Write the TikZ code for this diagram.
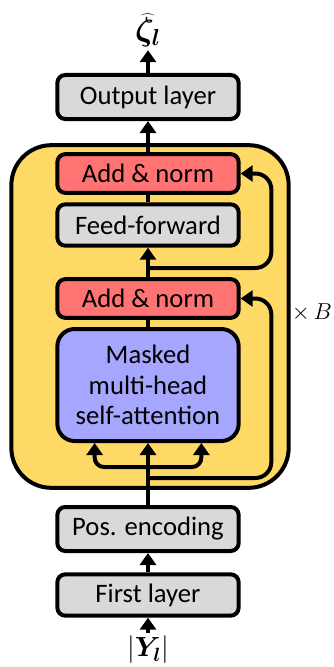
\documentclass[tikz,border=0pt]{standalone}
\usepackage{fontspec}
\usepackage{bm}
\setmainfont{Carlito}
\usetikzlibrary{arrows.meta}
\definecolor{boxgray}{HTML}{D9D9D9}
\definecolor{normred}{HTML}{FF7373}
\definecolor{attnblue}{HTML}{A6A6FF}
\definecolor{blockyellow}{HTML}{FFD966}
\begin{document}
\begin{tikzpicture}[x=0.75pt,y=-0.75pt,line width=3pt,
        >={Triangle[width=12pt,length=9pt]},
        layer/.style={draw,rounded corners=6pt,minimum width=136pt,inner sep=0pt,
            font=\fontsize{20}{23}\selectfont,align=center},
        graylayer/.style={layer,fill=boxgray},
        normlayer/.style={layer,fill=normred,minimum height=29pt},
        label/.style={font=\fontsize{20}{23}\selectfont,inner sep=1pt}]
                \useasboundingbox (0,0) rectangle (334,667);
                \node[draw,fill=blockyellow,rounded corners=30pt,minimum width=208pt,minimum height=257pt] (block) at (150,316.5) {};

                \node[graylayer,minimum height=33pt] (output) at (148,97) {Output layer};
                \node[normlayer] (norm2) at (148,173.5) {Add \& norm};
                \node[graylayer,minimum height=31pt] (ff) at (148,225) {Feed-forward};
                \node[normlayer] (norm1) at (148,298.5) {Add \& norm};
                \node[layer,fill=attnblue,rounded corners=13pt,minimum height=84pt] (mhsa) at (148,385) {Masked\\multi-head\\self-attention};
                \node[graylayer,minimum height=33pt] (pos) at (148,529) {Pos. encoding};
                \node[graylayer,minimum height=31pt] (first) at (148,595) {First layer};

                \node[label,font=\fontsize{23}{26}\selectfont] (zeta) at (148,30) {\(\bm{\widehat{\zeta}_{l}}\)};
                \node[label] (input) at (148,650) {\(|\bm{Y}_{\bm{l}}|\)};
                \node[label,font=\fontsize{18}{21}\selectfont,inner sep=0pt] (times) at (312,313) {\(\times\,B\)};

                \coordinate (split1) at (148,467);
                \coordinate (split2) at (148,478);
                \coordinate (split3) at (148,268);

                \draw[->] (input) to (first); \draw[->] (first) to (pos); \draw[->] (pos) to (mhsa);
                \draw (mhsa) to (norm1); \draw[->] (norm1) to (ff); \draw (ff) to (norm2);
                \draw[->] (norm2) to (output); \draw[->] (output.north) to (zeta.south);
                \draw[->,rounded corners=7pt] (split1) -| ([xshift=-40pt]mhsa.south);
                \draw[->,rounded corners=7pt] (split1) -| ([xshift=40pt]mhsa.south);
                \draw[->,rounded corners=12pt] (split2) -| ([xshift=23pt]norm1.east) -- (norm1.east);
                \draw[->,rounded corners=12pt] (split3) -| ([xshift=23pt]norm2.east) -- (norm2.east);
            \end{tikzpicture}
\end{document}
